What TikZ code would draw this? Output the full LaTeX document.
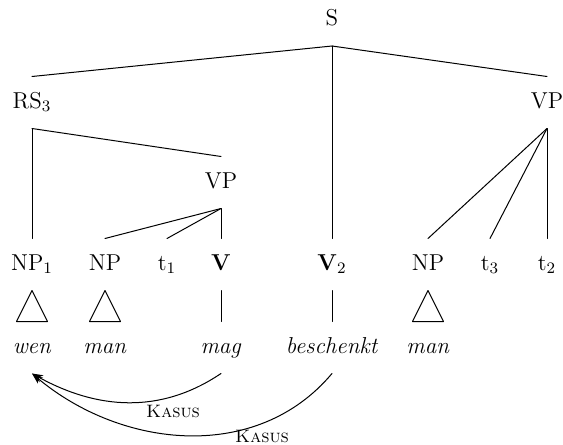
\documentclass[tikz,border=0pt]{standalone}
\usepackage{fontspec}
\usetikzlibrary{arrows.meta}

\tikzset{
  cat/.style={inner sep=0pt, anchor=base, text height=15.5pt, text depth=10pt,
    font=\fontsize{11.5}{13}\selectfont},
  kasus/.style={inner sep=0pt, font=\fontsize{9}{11}\selectfont\scshape},
}

\begin{document}
\begin{tikzpicture}[>={Stealth[length=5.5pt,width=4pt]}, line cap=round, line join=round,
  line width=.5pt, x=.5pt, y=-.5pt]
\useasboundingbox (0,0) rectangle (563,445);

% Nodi interni
\node[cat] (S)   at (332,25.5) {S};
\node[cat] (RS)  at (32,108)   {RS$_3$};
\node[cat] (VPr) at (547,108)  {VP};
\node[cat] (VPm) at (221,188)  {VP};

% Foglie
\node[cat] (NPa) at (32,270)  {NP$_1$};
\node[cat] (NPb) at (105,270) {NP};
\node[cat] (ta)  at (167,270) {t$_1$};
\node[cat] (V)   at (221,270) {\textbf{V}};
\node[cat] (V2)  at (332,270) {\textbf{V}$_2$};
\node[cat] (NPc) at (428,270) {NP};
\node[cat] (tc)  at (490,270) {t$_3$};
\node[cat] (tb)  at (547,270) {t$_2$};

% Parole
\node[cat] (wen)   at (32,353)  {\textit{wen}};
\node[cat] (mana)  at (105,353) {\textit{man}};
\node[cat] (mag)   at (221,353) {\textit{mag}};
\node[cat] (besch) at (332,353) {\textit{beschenkt}};
\node[cat] (manb)  at (428,353) {\textit{man}};

% Rami
\foreach \n in {RS,V2,VPr} \draw (S.south) -- (\n.north);
\foreach \n in {NPa,VPm} \draw (RS.south) -- (\n.north);
\foreach \n in {NPb,ta,V} \draw (VPm.south) -- (\n.north);
\foreach \n in {NPc,tc,tb} \draw (VPr.south) -- (\n.north);

% Triangoli e linee verticali
\foreach \np/\w in {NPa/wen, NPb/mana, NPc/manb}
  \draw (\np.south) -- ([shift={(-15.5,0)}]\w.north) -- ([shift={(15.5,0)}]\w.north) -- cycle;
\draw (V.south) -- (mag.north);
\draw (V2.south) -- (besch.north);

% Frecce
\draw[->] (mag.south) to[out=-146, in=-29] (wen.south);
\draw[->] (besch.south) to[out=-130, in=-40] (wen.south);

% Etichette
\node[kasus] (k1) at (173,411) {Kasus};
\node[kasus] (k2) at (262,436) {Kasus};

\end{tikzpicture}
\end{document}
